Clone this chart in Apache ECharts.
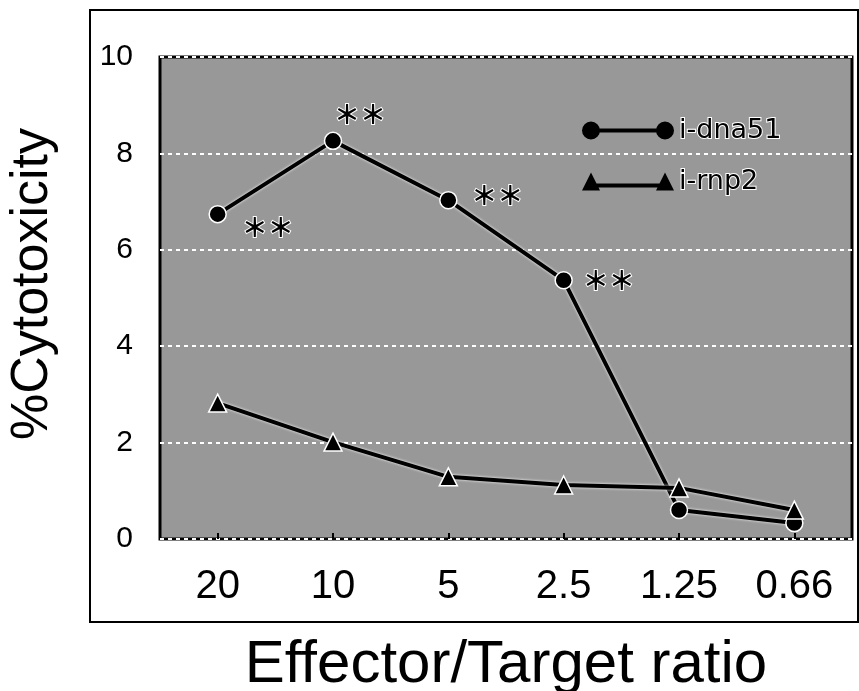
<!DOCTYPE html>
<html>
<head>
<meta charset="utf-8">
<script src="https://cdn.jsdelivr.net/npm/echarts@6/dist/echarts.min.js"></script>
<style>
  html, body { margin: 0; padding: 0; background: #fff; }
  #chart { width: 859px; height: 691px; }
</style>
</head>
<body>
<div id="chart"></div>
<script>
// E/T ratios along the x axis
const categories = ['20', '10', '5', '2.5', '1.25', '0.66']
// % cytotoxicity
const dna51 = [6.74, 8.26, 7.03, 5.37, 0.60, 0.33]
const rnp2 = [2.82, 2.01, 1.29, 1.12, 1.06, 0.60]
// which i-dna51 points carry the ** mark
const dna51Sig = [true, true, true, true, false, false]
const yTicks = [0, 2, 4, 6, 8, 10]

// where the ** sits relative to its point (px)
const starOffsets = [[50, 13], [27, -27], [49, -5], [45, 0], [0, 0], [0, 0]]

// legend icons: marker at both ends joined by a bar
const circleIcon = 'path://M0,9 A9,9 0 1,1 18,9 A9,9 0 1,1 0,9 Z M74,9 A9,9 0 1,1 92,9 A9,9 0 1,1 74,9 Z M9,7 L83,7 L83,11 L9,11 Z'
const triIcon = 'path://M0,18 L9,0 L18,18 Z M74,18 L83,0 L92,18 Z M9,11 L83,11 L83,15 L9,15 Z'

const chart = echarts.init(document.getElementById('chart'))

const lineCommon = {
  type: 'line',
  color: '#000',
  lineStyle: { width: 4, color: '#000', shadowColor: '#fff', shadowBlur: 3 },
  itemStyle: { color: '#000', borderColor: '#fff', borderWidth: 1.5 },
  z: 3
}

chart.setOption({
  animation: false,
  backgroundColor: '#fff',
  grid: {
    left: 160, top: 57, right: 7, bottom: 152,
    outerBoundsMode: 'none',
    containLabel: false,
    show: true,
    backgroundColor: '#989898',
    borderColor: '#000',
    borderWidth: 3
  },
  graphic: [{
    type: 'rect',
    shape: { x: 90, y: 10, width: 768, height: 612 },
    style: { fill: 'none', stroke: '#000', lineWidth: 2 },
    z: 0
  }, {
    // y axis title
    type: 'text',
    x: 33,
    y: 284,
    rotation: Math.PI / 2,
    style: {
      text: '%Cytotoxicity',
      font: '52px "Liberation Sans"',
      fill: '#000',
      align: 'center',
      verticalAlign: 'middle'
    }
  }],
  legend: {
    orient: 'vertical',
    left: 582,
    top: 116,
    padding: 0,
    itemWidth: 92,
    itemHeight: 18,
    itemGap: 22,
    itemStyle: { color: '#000', borderWidth: 0 },
    textStyle: {
      fontFamily: 'DejaVu Sans',
      fontSize: 27,
      color: '#000',
      textBorderColor: '#fff',
      textBorderWidth: 2
    },
    data: [
      { name: 'i-dna51', icon: circleIcon },
      { name: 'i-rnp2', icon: triIcon }
    ]
  },
  xAxis: {
    type: 'category',
    data: categories,
    boundaryGap: true,
    name: 'Effector/Target ratio',
    nameLocation: 'middle',
    nameGap: 96,
    nameTextStyle: { fontFamily: 'Liberation Sans', fontSize: 60, color: '#000' },
    axisLine: { show: false },
    axisTick: { show: true, inside: true, alignWithLabel: true, length: 6, lineStyle: { color: '#000', width: 2 } },
    axisLabel: { fontFamily: 'Liberation Sans', fontSize: 40, color: '#000', margin: 28 },
    splitLine: { show: false }
  },
  yAxis: {
    type: 'value',
    min: yTicks[0],
    max: yTicks[yTicks.length - 1],
    interval: 2,
    axisLine: { show: false },
    axisTick: { show: false },
    axisLabel: { fontFamily: 'Liberation Sans', fontSize: 30, color: '#000', margin: 27 },
    splitLine: { show: true, lineStyle: { color: '#fff', width: 2, type: [4, 4] } }
  },
  series: [
    Object.assign({}, lineCommon, {
      name: 'i-dna51',
      symbol: 'circle',
      symbolSize: 17,
      data: dna51.map((v, i) => ({
        value: v,
        label: {
          show: dna51Sig[i],
          position: 'inside',
          offset: starOffsets[i],
          formatter: '＊＊',
          fontFamily: 'Noto Sans CJK JP',
          fontWeight: 'bold',
          fontSize: 26,
          color: '#000',
          textBorderColor: '#fff',
          textBorderWidth: 2
        }
      }))
    }),
    Object.assign({}, lineCommon, {
      name: 'i-rnp2',
      symbol: 'triangle',
      symbolSize: [18, 18],
      data: rnp2
    })
  ]
})
</script>
</body>
</html>
